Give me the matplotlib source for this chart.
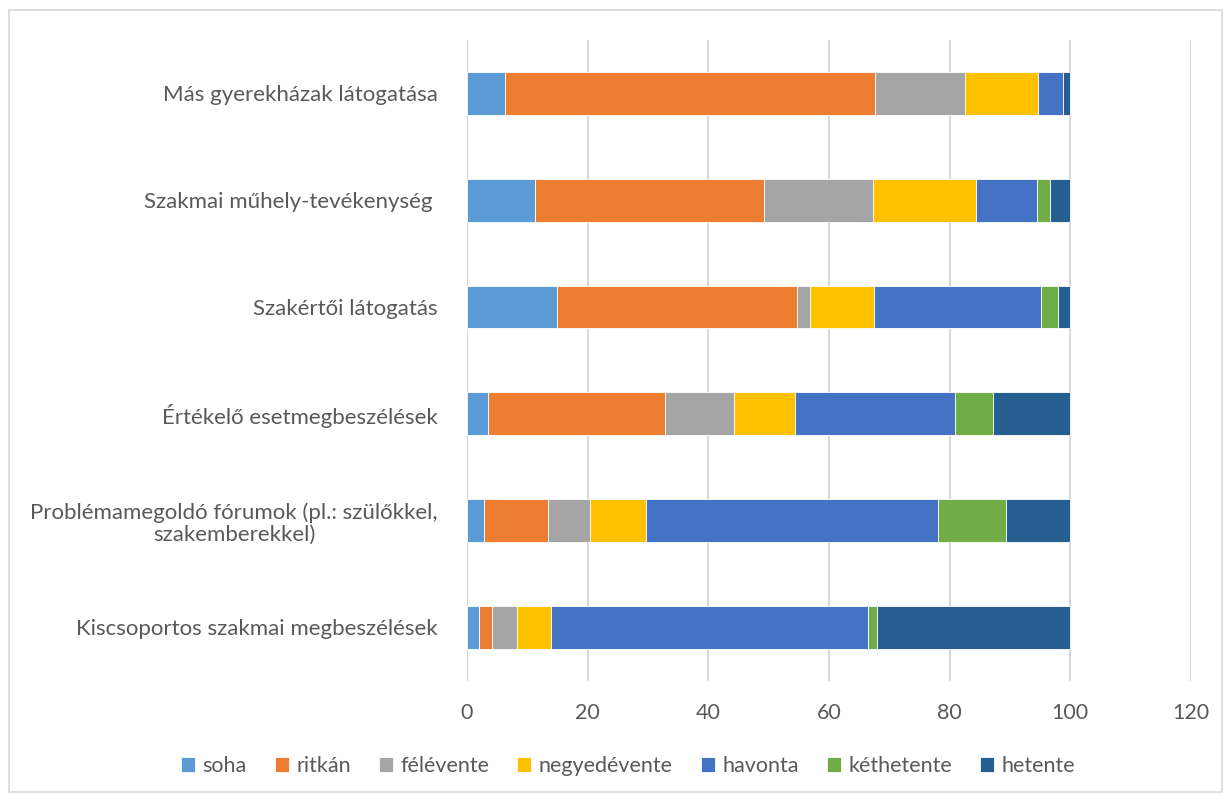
import matplotlib.pyplot as plt
from matplotlib.patches import Rectangle
import numpy as np

plt.rcParams['font.family'] = ['Lato', 'DejaVu Sans']

categories = ['Más gyerekházak látogatása',
              'Szakmai műhely-tevékenység ',
              'Szakértői látogatás',
              'Értékelő esetmegbeszélések',
              'Problémamegoldó fórumok (pl.: szülőkkel,\nszakemberekkel)',
              'Kiscsoportos szakmai megbeszélések']

series = ['soha', 'ritkán', 'félévente', 'negyedévente', 'havonta', 'kéthetente', 'hetente']

soha = [6.3, 11.3, 14.9, 3.5, 2.8, 2.0]
ritkan = [61.3, 38.0, 39.8, 29.4, 10.6, 2.1]
felevente = [14.9, 18.0, 2.1, 11.4, 7.0, 4.2]
negyedevente = [12.1, 17.1, 10.6, 10.1, 9.3, 5.6]
havonta = [4.2, 10.0, 27.7, 26.5, 48.3, 52.5]
kethetente = [0.0, 2.2, 2.9, 6.2, 11.3, 1.5]
hetente = [1.2, 3.4, 2.0, 12.9, 10.7, 32.1]

colors = ['#5B9BD5', '#ED7D31', '#A5A5A5', '#FFC000', '#4472C4', '#70AD47', '#255E91']
text_color = '#595959'
fs = 15.5

fig = plt.figure(figsize=(12.27, 7.96), dpi=100)
ax = fig.add_axes([467 / 1227, 1 - 680.7 / 796, (1191 - 467) / 1227, (680.7 - 40) / 796])

y = np.arange(len(categories))
left = np.zeros(len(categories))
for name, vals, c in zip(series, [soha, ritkan, felevente, negyedevente, havonta, kethetente, hetente], colors):
    ax.barh(y, vals, left=left, height=0.4, color=c, label=name,
            edgecolor='white', linewidth=0.6, zorder=3)
    left += np.array(vals)

ax.set_xlim(0, 120)
ax.set_ylim(5.5, -0.5)
ax.set_xticks(range(0, 121, 20))
ax.set_yticks(y)
ax.set_yticklabels(categories, multialignment='center', linespacing=1.15, fontsize=16)
ax.tick_params(axis='x', labelsize=fs)
ax.tick_params(axis='both', length=0, colors=text_color)
ax.tick_params(axis='y', pad=21)
ax.tick_params(axis='x', pad=16)
ax.grid(axis='x', color='#D9D9D9', linewidth=1.5, zorder=0)
for s in ax.spines.values():
    s.set_visible(False)

fig.legend(loc='center', bbox_to_anchor=(628 / 1227, 1 - 766 / 796), ncol=7, frameon=False,
           fontsize=fs, handlelength=0.65, handleheight=0.65, handletextpad=0.35,
           columnspacing=1.3, labelcolor=text_color)

fig.patches.append(Rectangle((9 / 1227, 0.005), (1222 - 9) / 1227, 1 - 10 / 796 - 0.005,
                             transform=fig.transFigure, fill=False, edgecolor='#D9D9D9', linewidth=1.2))

fig.savefig('out.png', dpi=100)
